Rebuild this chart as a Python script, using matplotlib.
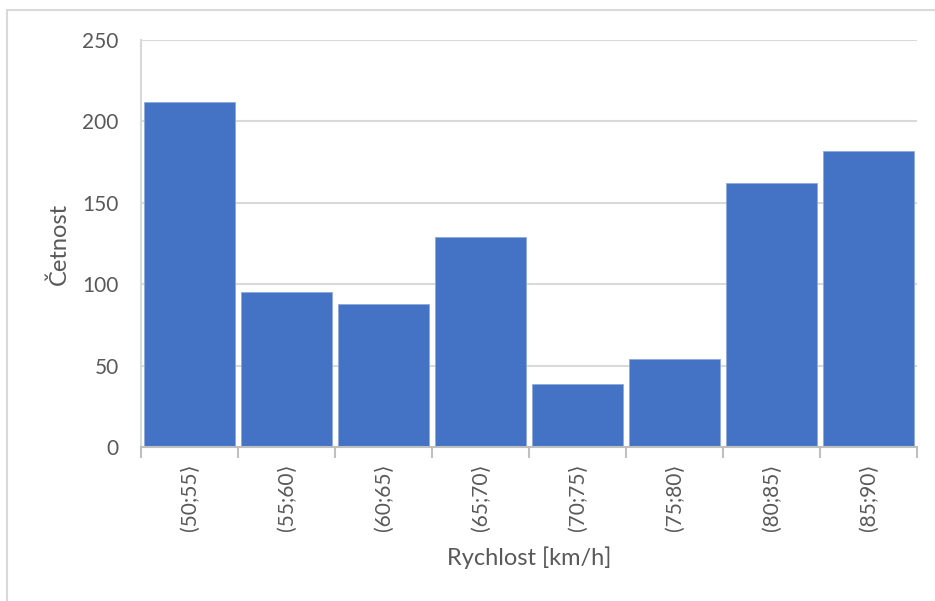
import matplotlib
matplotlib.use("Agg")
import matplotlib.pyplot as plt
from matplotlib.patches import Rectangle
import numpy as np

plt.rcParams["font.family"] = ["Lato", "DejaVu Sans"]

# speed intervals and their counts
categories = ["(50;55⟩", "(55;60⟩", "(60;65⟩", "(65;70⟩",
              "(70;75⟩", "(75;80⟩", "(80;85⟩", "(85;90⟩"]
counts = [212, 95, 88, 129, 39, 54, 162, 182]
yticks = [0, 50, 100, 150, 200, 250]

W, H = 935, 601
TXT = "#595959"
fig = plt.figure(figsize=(W / 100, H / 100), dpi=100)
fig.patch.set_facecolor("white")

# outer chart frame (only left and top edges fall inside the canvas)
fig.patches.append(Rectangle((7 / W, -0.05), 1.2, (H - 10) / H + 0.05,
                             transform=fig.transFigure, fill=False,
                             edgecolor="#d9d9d9", lw=1.5, zorder=0))

ax = fig.add_axes([141 / W, (H - 447) / H, (917 - 141) / W, (447 - 40) / H])

x = np.arange(len(counts))
ax.bar(x, counts, width=0.935, color="#4472c4", edgecolor="#8fa9dc",
       linewidth=0.6, zorder=3)

ax.set_xlim(-0.5, len(counts) - 0.5)
ax.set_ylim(0, 250)
ax.set_yticks(yticks)
ax.set_yticklabels([str(v) for v in yticks], fontsize=15, color=TXT)
ax.yaxis.grid(True, color="#d9d9d9", lw=1.5, zorder=0)
ax.tick_params(axis="y", length=0, pad=16)

# category labels sit between the boundary ticks
ax.set_xticks(x)
ax.set_xticklabels(categories, rotation=90, fontsize=15, color=TXT)
ax.tick_params(axis="x", which="major", length=0, pad=12)
ax.set_xticks(np.arange(len(counts) + 1) - 0.5, minor=True)
ax.tick_params(axis="x", which="minor", length=8, width=1.5, color="#bfbfbf")

for side in ("top", "right"):
    ax.spines[side].set_visible(False)
ax.spines["left"].set_color("#d9d9d9")
ax.spines["left"].set_linewidth(1.5)
ax.spines["bottom"].set_color("#bfbfbf")
ax.spines["bottom"].set_linewidth(1.5)
ax.spines["bottom"].set_zorder(4)

ax.set_ylabel("Četnost", fontsize=17, color=TXT)
ax.set_xlabel("Rychlost [km/h]", fontsize=17, color=TXT)
ax.yaxis.set_label_coords(-0.092, 0.5)
ax.xaxis.set_label_coords(0.5, -0.244)

fig.savefig("out.png", dpi=100, facecolor="white")
plt.close(fig)
